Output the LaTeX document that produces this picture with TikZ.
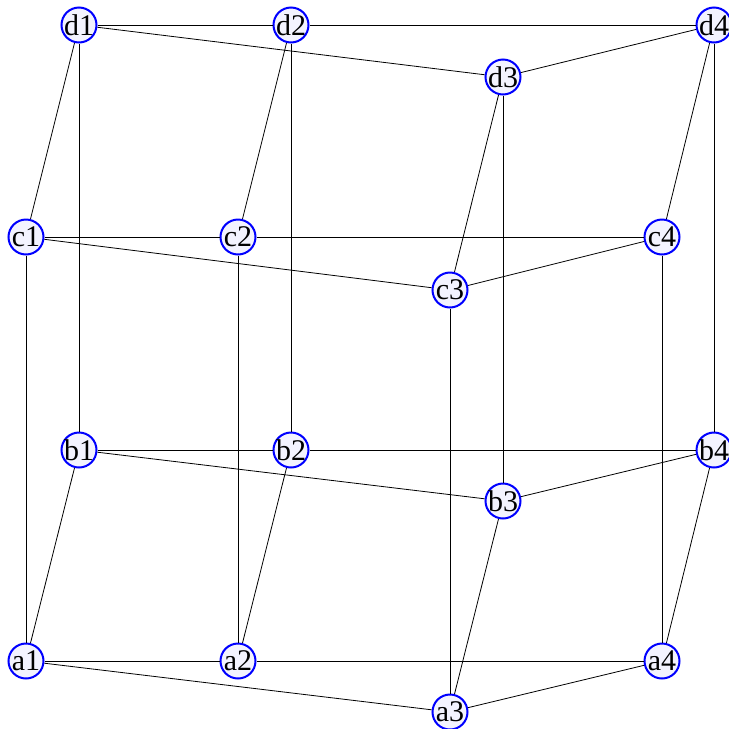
\documentclass[tikz,border=0pt]{standalone}
\usepackage{fontspec}
\setmainfont{Liberation Serif}
\usepackage{tikz}
\definecolor{vfill}{RGB}{243,243,255}

\begin{document}
\begin{tikzpicture}[x=1pt,y=-1pt,
    vtx/.style={circle, draw=blue, line width=2pt, fill=vfill, inner sep=-4pt,
      minimum size=35pt, font=\fontsize{30}{33}\selectfont},
    edge/.style={draw=black, line width=0.8pt}]
    \useasboundingbox (0,0) rectangle (729,729);
    % front layer (a)
    \node[vtx] (a1) at (26,661) {a1};
    \node[vtx] (a2) at (238,661) {a2};
    \node[vtx] (a3) at (450,712) {a3};
    \node[vtx] (a4) at (662,661) {a4};
    % b layer
    \node[vtx] (b1) at (79,450) {b1};
    \node[vtx] (b2) at (291,450) {b2};
    \node[vtx] (b3) at (503,501) {b3};
    \node[vtx] (b4) at (714,450) {b4};
    % c layer
    \node[vtx] (c1) at (26,237) {c1};
    \node[vtx] (c2) at (238,237) {c2};
    \node[vtx] (c3) at (450,290) {c3};
    \node[vtx] (c4) at (662,237) {c4};
    % top layer (d)
    \node[vtx] (d1) at (79,25) {d1};
    \node[vtx] (d2) at (291,25) {d2};
    \node[vtx] (d3) at (503,77) {d3};
    \node[vtx] (d4) at (714,25) {d4};
    % edges
    \foreach \l in {a,b,c,d} {
        \draw[edge] (\l1) -- (\l2);
        \draw[edge] (\l2) -- (\l4);
        \draw[edge] (\l1) -- (\l3);
        \draw[edge] (\l3) -- (\l4);
    }
    \foreach \i in {1,2,3,4} {
        \draw[edge] (d\i) -- (c\i);
        \draw[edge] (d\i) -- (b\i);
        \draw[edge] (c\i) -- (a\i);
        \draw[edge] (b\i) -- (a\i);
    }
\end{tikzpicture}
\end{document}
